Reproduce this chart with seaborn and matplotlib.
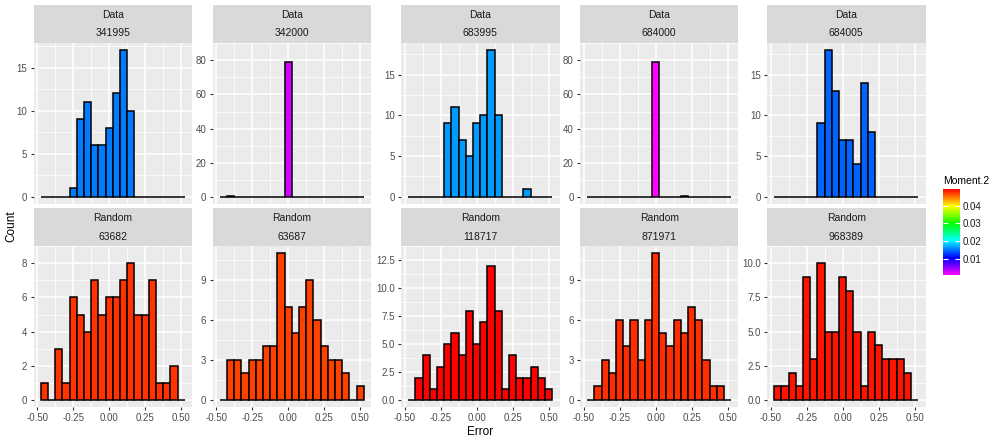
import numpy as np
import pandas as pd
import matplotlib
matplotlib.use('Agg')
import matplotlib.pyplot as plt
import matplotlib.colors as mcolors
import matplotlib.colorbar as mcolorbar
import seaborn as sns

# bin centres of the Error histograms (binwidth 0.05)
centres = [-0.45, -0.40, -0.35, -0.30, -0.25, -0.20, -0.15, -0.10, -0.05, 0.00,
           0.05, 0.10, 0.15, 0.20, 0.25, 0.30, 0.35, 0.40, 0.45, 0.50]

groups = ['Data'] * 5 + ['Random'] * 5
ids = ['341995', '342000', '683995', '684000', '684005',
       '63682', '63687', '118717', '871971', '968389']
moment2 = [0.0154, 0.0024, 0.0164, 0.0008, 0.0144,
           0.0475, 0.0468, 0.0494, 0.0476, 0.0486]

counts_341995 = [0, 0, 0, 0, 1, 9, 11, 6, 6, 8, 12, 17, 10, 0, 0, 0, 0, 0, 0, 0]
counts_342000 = [0, 1, 0, 0, 0, 0, 0, 0, 0, 79, 0, 0, 0, 0, 0, 0, 0, 0, 0, 0]
counts_683995 = [0, 0, 0, 0, 0, 9, 11, 7, 5, 9, 10, 18, 10, 0, 0, 0, 1, 0, 0, 0]
counts_684000 = [0, 0, 0, 0, 0, 0, 0, 0, 0, 79, 0, 0, 0, 1, 0, 0, 0, 0, 0, 0]
counts_684005 = [0, 0, 0, 0, 0, 0, 9, 18, 13, 7, 7, 4, 14, 8, 0, 0, 0, 0, 0, 0]
counts_63682 = [1, 0, 3, 1, 6, 5, 4, 7, 5, 6, 6, 7, 8, 5, 5, 7, 1, 1, 2, 0]
counts_63687 = [0, 3, 3, 2, 3, 3, 4, 4, 11, 7, 5, 7, 9, 6, 4, 3, 3, 2, 0, 1]
counts_118717 = [0, 2, 4, 1, 3, 5, 6, 4, 8, 5, 7, 12, 8, 1, 4, 2, 2, 3, 2, 1]
counts_871971 = [0, 1, 3, 2, 6, 4, 6, 3, 6, 11, 5, 4, 6, 5, 7, 6, 3, 1, 1, 0]
counts_968389 = [1, 1, 2, 1, 9, 3, 10, 5, 5, 9, 8, 5, 1, 5, 4, 3, 3, 3, 2, 0]

all_counts = [counts_341995, counts_342000, counts_683995, counts_684000, counts_684005,
              counts_63682, counts_63687, counts_118717, counts_871971, counts_968389]

y_breaks = [[0, 5, 10, 15], [0, 20, 40, 60, 80], [0, 5, 10, 15], [0, 20, 40, 60, 80],
            [0, 5, 10, 15], [0, 2, 4, 6, 8], [0, 3, 6, 9], [0, 2.5, 5, 7.5, 10, 12.5],
            [0, 3, 6, 9], [0, 2.5, 5, 7.5, 10]]
x_breaks = [-0.5, -0.25, 0, 0.25, 0.5]
x_labels = ['-0.50', '-0.25', '0.00', '0.25', '0.50']

rows = []
for g, pid, m, cnt in zip(groups, ids, moment2, all_counts):
    for c, n in zip(centres, cnt):
        rows.append({'group': g, 'id': pid, 'Moment.2': m, 'Error': c, 'Count': n})
df = pd.DataFrame(rows)

edges = [round(c - 0.025, 3) for c in centres] + [round(centres[-1] + 0.025, 3)]

# rainbow from magenta (low) to red (high)
hues = np.linspace(300 / 360, 0, 256)
cmap = mcolors.ListedColormap(mcolors.hsv_to_rgb(np.stack([hues, np.ones(256), np.ones(256)], axis=1)))
norm = mcolors.Normalize(vmin=min(moment2), vmax=max(moment2))

plt.rcParams['font.family'] = ['Liberation Sans', 'DejaVu Sans']
fig = plt.figure(figsize=(10, 4.4), dpi=100)
W, H = 1000, 440

lefts = [33.5, 212.5, 401, 580, 767]
pw = 158.5
row_top = [43, 246]   # panel top (px)
ph = 161
strip_h = 38

for k, pid in enumerate(ids):
    r, c = divmod(k, 5)
    left = lefts[c]
    top = row_top[r]
    ax = fig.add_axes([left / W, 1 - (top + ph) / H, pw / W, ph / H])
    ax.set_facecolor('#EBEBEB')
    sub = df[df['id'] == pid].reset_index(drop=True)
    sns.histplot(data=sub, x='Error', weights='Count', bins=edges,
                 color=cmap(norm(moment2[k])), edgecolor='black', linewidth=1.1,
                 alpha=1, ax=ax, zorder=3)
    ymax = max(all_counts[k])
    ax.set_xlim(-0.525, 0.575)
    ax.set_ylim(-0.05 * ymax, 1.05 * ymax)
    yb = y_breaks[k]
    ax.set_yticks(yb)
    if any(v != int(v) for v in yb):
        ax.set_yticklabels([f'{v:.1f}' for v in yb])
    else:
        ax.set_yticklabels([str(int(v)) for v in yb])
    ax.set_yticks([(a + b) / 2 for a, b in zip(yb[:-1], yb[1:])] + [yb[-1] + (yb[1] - yb[0]) / 2], minor=True)
    ax.set_xticks(x_breaks)
    ax.set_xticks([-0.375, -0.125, 0.125, 0.375], minor=True)
    ax.grid(which='major', color='white', linewidth=1.1, zorder=0)
    ax.grid(which='minor', color='white', linewidth=0.55, zorder=0)
    ax.set_axisbelow(True)
    for s in ax.spines.values():
        s.set_visible(False)
    ax.tick_params(which='minor', length=0)
    ax.tick_params(axis='y', which='major', length=2.5, width=0.8, color='#333333',
                   labelsize=7, labelcolor='#4D4D4D', pad=2)
    if r == 0:
        ax.set_xticklabels([])
        ax.tick_params(axis='x', which='major', length=0)
    else:
        ax.set_xticklabels(x_labels)
        ax.tick_params(axis='x', which='major', length=2.5, width=0.8, color='#333333',
                       labelsize=7, labelcolor='#4D4D4D', pad=2)
    ax.set_xlabel('')
    ax.set_ylabel('')

    sax = fig.add_axes([left / W, 1 - top / H, pw / W, strip_h / H])
    sax.set_facecolor('#D9D9D9')
    sax.set_xticks([])
    sax.set_yticks([])
    for s in sax.spines.values():
        s.set_visible(False)
    sax.text(0.5, 0.73, groups[k], ha='center', va='center', fontsize=7.5, color='#1A1A1A')
    sax.text(0.5, 0.25, pid, ha='center', va='center', fontsize=7.5, color='#1A1A1A')

fig.text(11 / W, 1 - 226 / H, 'Count', rotation=90, ha='center', va='center', fontsize=8.5)
fig.text(480 / W, 1 - 432 / H, 'Error', ha='center', va='center', fontsize=8.5)

cax = fig.add_axes([943 / W, 1 - 275 / H, 17 / W, 86 / H])
cb = mcolorbar.ColorbarBase(cax, cmap=cmap, norm=norm, ticks=[0.01, 0.02, 0.03, 0.04])
cb.outline.set_visible(False)
cb.ax.set_yticklabels(['0.01', '0.02', '0.03', '0.04'])
cax.tick_params(axis='y', direction='in', color='white', length=3.5, width=0.8,
                left=True, right=True, labelsize=7, labelcolor='#1A1A1A', pad=2)
fig.text(943 / W, 1 - 181 / H, 'Moment.2', ha='left', va='center', fontsize=7.5)

fig.savefig('out.png', dpi=100)
